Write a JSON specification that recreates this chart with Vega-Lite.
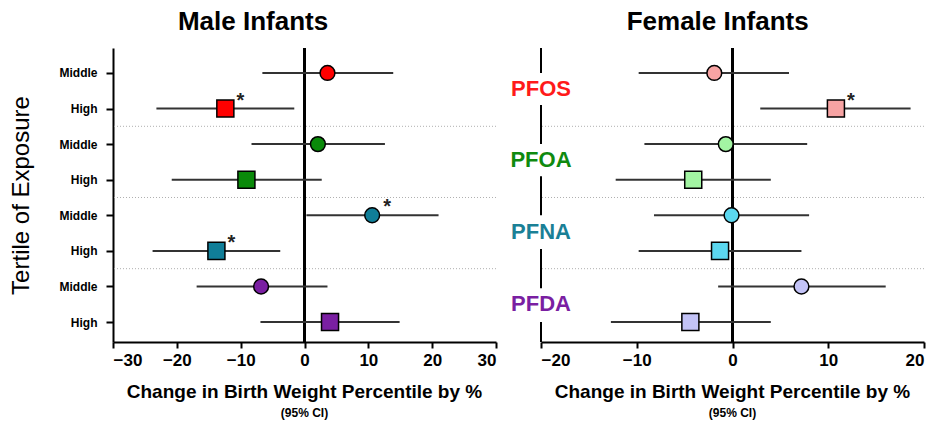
{
  "$schema": "https://vega.github.io/schema/vega-lite/v6.json",
  "background": "white",
  "padding": {"left": 9, "top": 9, "right": 6, "bottom": 2},
  "spacing": 13,
  "config": {
    "view": {"stroke": null},
    "font": "Liberation Sans",
    "axis": {
      "grid": false,
      "domainColor": "black",
      "domainWidth": 2,
      "tickColor": "black",
      "tickWidth": 2,
      "labelColor": "black",
      "labelFont": "Liberation Sans",
      "labelFontWeight": "bold",
      "titleColor": "black",
      "titleFont": "Liberation Sans"
    },
    "title": {
      "font": "Liberation Sans",
      "fontSize": 26,
      "fontWeight": "bold",
      "color": "black",
      "anchor": "middle",
      "offset": 12
    }
  },
  "datasets": {
    "male": [
      {"row": 1, "level": "Middle", "chem": "PFOS", "est": 3.6, "lo": -6.6, "hi": 13.9, "sig": false},
      {"row": 2, "level": "High", "chem": "PFOS", "est": -12.4, "lo": -23.2, "hi": -1.6, "sig": true},
      {"row": 3, "level": "Middle", "chem": "PFOA", "est": 2.1, "lo": -8.3, "hi": 12.6, "sig": false},
      {"row": 4, "level": "High", "chem": "PFOA", "est": -9.1, "lo": -20.8, "hi": 2.7, "sig": false},
      {"row": 5, "level": "Middle", "chem": "PFNA", "est": 10.6, "lo": 0.3, "hi": 21.0, "sig": true},
      {"row": 6, "level": "High", "chem": "PFNA", "est": -13.8, "lo": -23.8, "hi": -3.8, "sig": true},
      {"row": 7, "level": "Middle", "chem": "PFDA", "est": -6.8, "lo": -16.9, "hi": 3.6, "sig": false},
      {"row": 8, "level": "High", "chem": "PFDA", "est": 4.0, "lo": -6.9, "hi": 14.9, "sig": false}
    ],
    "female": [
      {"row": 1, "level": "Middle", "chem": "PFOS", "est": -1.9, "lo": -9.8, "hi": 5.9, "sig": false},
      {"row": 2, "level": "High", "chem": "PFOS", "est": 10.8, "lo": 2.9, "hi": 18.6, "sig": true},
      {"row": 3, "level": "Middle", "chem": "PFOA", "est": -0.7, "lo": -9.2, "hi": 7.8, "sig": false},
      {"row": 4, "level": "High", "chem": "PFOA", "est": -4.1, "lo": -12.2, "hi": 4.0, "sig": false},
      {"row": 5, "level": "Middle", "chem": "PFNA", "est": -0.1, "lo": -8.2, "hi": 8.0, "sig": false},
      {"row": 6, "level": "High", "chem": "PFNA", "est": -1.3, "lo": -9.8, "hi": 7.2, "sig": false},
      {"row": 7, "level": "Middle", "chem": "PFDA", "est": 7.2, "lo": -1.5, "hi": 16.0, "sig": false},
      {"row": 8, "level": "High", "chem": "PFDA", "est": -4.4, "lo": -12.7, "hi": 4.0, "sig": false}
    ],
    "groups": [
      {"chem": "PFOS", "mid": 1.45},
      {"chem": "PFOA", "mid": 3.45},
      {"chem": "PFNA", "mid": 5.47},
      {"chem": "PFDA", "mid": 7.5}
    ],
    "separators": [
      {"at": 2.5},
      {"at": 4.5},
      {"at": 6.5}
    ],
    "axisPieces": [
      {"from": 0.3, "to": 1.0},
      {"from": 1.9, "to": 3.0},
      {"from": 3.9, "to": 5.0},
      {"from": 5.95, "to": 7.05},
      {"from": 8.0, "to": 8.56}
    ]
  },
  "resolve": {
    "scale": {"x": "independent", "y": "independent", "fill": "independent", "color": "independent", "shape": "independent", "size": "independent"}
  },
  "hconcat": [
    {
      "title": {"text": "Male Infants"},
      "hconcat": [
        {
          "width": 383,
          "height": 294,
          "title": {"text": "Change in Birth Weight Percentile by %", "subtitle": "(95% CI)", "orient": "bottom", "fontSize": 19, "subtitleFontSize": 12, "subtitleFontWeight": "bold", "subtitleColor": "black", "subtitleFont": "Liberation Sans", "subtitlePadding": 6, "offset": 15},
          "layer": [
            {
              "data": {"name": "separators"},
              "mark": {"type": "rule", "color": "#b0b0b0", "strokeWidth": 1, "strokeDash": [1, 2]},
              "encoding": {
                "y": {"field": "at", "type": "quantitative", "title": "Tertile of Exposure", "scale": {"domain": [0.3, 8.56], "reverse": true, "nice": false, "zero": false}}
              }
            },
            {
              "data": {"name": "male"},
              "mark": {"type": "rule", "color": "black", "strokeWidth": 2},
              "encoding": {"x": {"datum": 0, "type": "quantitative", "title": null}}
            },
            {
              "data": {"name": "male"},
              "mark": {"type": "rule", "color": "#333333", "strokeWidth": 2},
              "encoding": {
                "x": {
                  "field": "lo", "type": "quantitative", "title": null,
                  "scale": {"domain": [-30, 30], "nice": false, "zero": false},
                  "axis": {
                    "values": [-30, -20, -10, 0, 10, 20, 30],
                    "labelFontSize": 17, "tickSize": 6, "labelPadding": 4
                  }
                },
                "x2": {"field": "hi"},
                "y": {
                  "field": "row", "type": "quantitative", "title": "Tertile of Exposure",
                  "scale": {"domain": [0.3, 8.56], "reverse": true, "nice": false, "zero": false},
                  "axis": {
                    "values": [1, 2, 3, 4, 5, 6, 7, 8],
                    "labelExpr": "datum.value % 2 == 1 ? 'Middle' : 'High'",
                    "labelFontSize": 12, "tickSize": 7, "labelPadding": 9,
                    "titleFontSize": 24, "titleFontWeight": "normal", "titlePadding": 26
                  }
                }
              }
            },
            {
              "data": {"name": "male"},
              "mark": {"type": "point", "filled": true, "stroke": "black", "strokeWidth": 1.5, "opacity": 1},
              "encoding": {
                "x": {"field": "est", "type": "quantitative", "title": null},
                "y": {"field": "row", "type": "quantitative", "title": "Tertile of Exposure"},
                "fill": {"field": "chem", "type": "nominal", "scale": {"domain": ["PFOS", "PFOA", "PFNA", "PFDA"], "range": ["#ff0000", "#0a8a0a", "#107e98", "#7a1fa2"]}, "legend": null},
                "shape": {"field": "level", "type": "nominal", "scale": {"domain": ["Middle", "High"], "range": ["circle", "square"]}, "legend": null},
                "size": {"field": "level", "type": "nominal", "scale": {"domain": ["Middle", "High"], "range": [220, 290]}, "legend": null}
              }
            },
            {
              "data": {"name": "male"},
              "transform": [{"filter": "datum.sig"}],
              "mark": {"type": "text", "text": "*", "fontSize": 20, "fontWeight": "bold", "color": "#222222", "dx": 15, "dy": -8},
              "encoding": {
                "x": {"field": "est", "type": "quantitative", "title": null},
                "y": {"field": "row", "type": "quantitative", "title": "Tertile of Exposure"}
              }
            }
          ]
        }
      ]
    },
    {
      "title": {"text": "Female Infants"},
      "hconcat": [
        {
          "width": 383,
          "height": 294,
          "title": {"text": "Change in Birth Weight Percentile by %", "subtitle": "(95% CI)", "orient": "bottom", "fontSize": 19, "subtitleFontSize": 12, "subtitleFontWeight": "bold", "subtitleColor": "black", "subtitleFont": "Liberation Sans", "subtitlePadding": 6, "offset": 15},
          "layer": [
            {
              "data": {"name": "separators"},
              "mark": {"type": "rule", "color": "#b0b0b0", "strokeWidth": 1, "strokeDash": [1, 2]},
              "encoding": {
                "y": {"field": "at", "type": "quantitative", "scale": {"domain": [0.3, 8.56], "reverse": true, "nice": false, "zero": false}, "axis": null}
              }
            },
            {
              "data": {"name": "axisPieces"},
              "mark": {"type": "rule", "color": "black", "strokeWidth": 2},
              "encoding": {
                "x": {"datum": -20, "type": "quantitative", "title": null},
                "y": {"field": "from", "type": "quantitative", "axis": null},
                "y2": {"field": "to"}
              }
            },
            {
              "data": {"name": "female"},
              "mark": {"type": "rule", "color": "black", "strokeWidth": 2},
              "encoding": {"x": {"datum": 0, "type": "quantitative", "title": null}}
            },
            {
              "data": {"name": "female"},
              "mark": {"type": "rule", "color": "#333333", "strokeWidth": 2},
              "encoding": {
                "x": {
                  "field": "lo", "type": "quantitative", "title": null,
                  "scale": {"domain": [-20, 20], "nice": false, "zero": false},
                  "axis": {
                    "values": [-20, -10, 0, 10, 20],
                    "labelFontSize": 17, "tickSize": 6, "labelPadding": 4
                  }
                },
                "x2": {"field": "hi"},
                "y": {"field": "row", "type": "quantitative", "axis": null}
              }
            },
            {
              "data": {"name": "female"},
              "mark": {"type": "point", "filled": true, "stroke": "black", "strokeWidth": 1.5, "opacity": 1},
              "encoding": {
                "x": {"field": "est", "type": "quantitative", "title": null},
                "y": {"field": "row", "type": "quantitative", "axis": null},
                "fill": {"field": "chem", "type": "nominal", "scale": {"domain": ["PFOS", "PFOA", "PFNA", "PFDA"], "range": ["#f7a3a3", "#a3f5a3", "#5bd7ef", "#c3c3f7"]}, "legend": null},
                "shape": {"field": "level", "type": "nominal", "scale": {"domain": ["Middle", "High"], "range": ["circle", "square"]}, "legend": null},
                "size": {"field": "level", "type": "nominal", "scale": {"domain": ["Middle", "High"], "range": [220, 290]}, "legend": null}
              }
            },
            {
              "data": {"name": "female"},
              "transform": [{"filter": "datum.sig"}],
              "mark": {"type": "text", "text": "*", "fontSize": 20, "fontWeight": "bold", "color": "#222222", "dx": 15, "dy": -8},
              "encoding": {
                "x": {"field": "est", "type": "quantitative", "title": null},
                "y": {"field": "row", "type": "quantitative", "axis": null}
              }
            },
            {
              "data": {"name": "groups"},
              "mark": {"type": "text", "fontSize": 22, "fontWeight": "bold", "align": "center", "baseline": "middle"},
              "encoding": {
                "x": {"datum": -20, "type": "quantitative", "title": null},
                "y": {"field": "mid", "type": "quantitative", "axis": null},
                "text": {"field": "chem"},
                "color": {"field": "chem", "type": "nominal", "scale": {"domain": ["PFOS", "PFOA", "PFNA", "PFDA"], "range": ["#ff1a1a", "#0f8a0f", "#1a8096", "#7a1fa2"]}, "legend": null}
              }
            }
          ]
        }
      ]
    }
  ]
}
